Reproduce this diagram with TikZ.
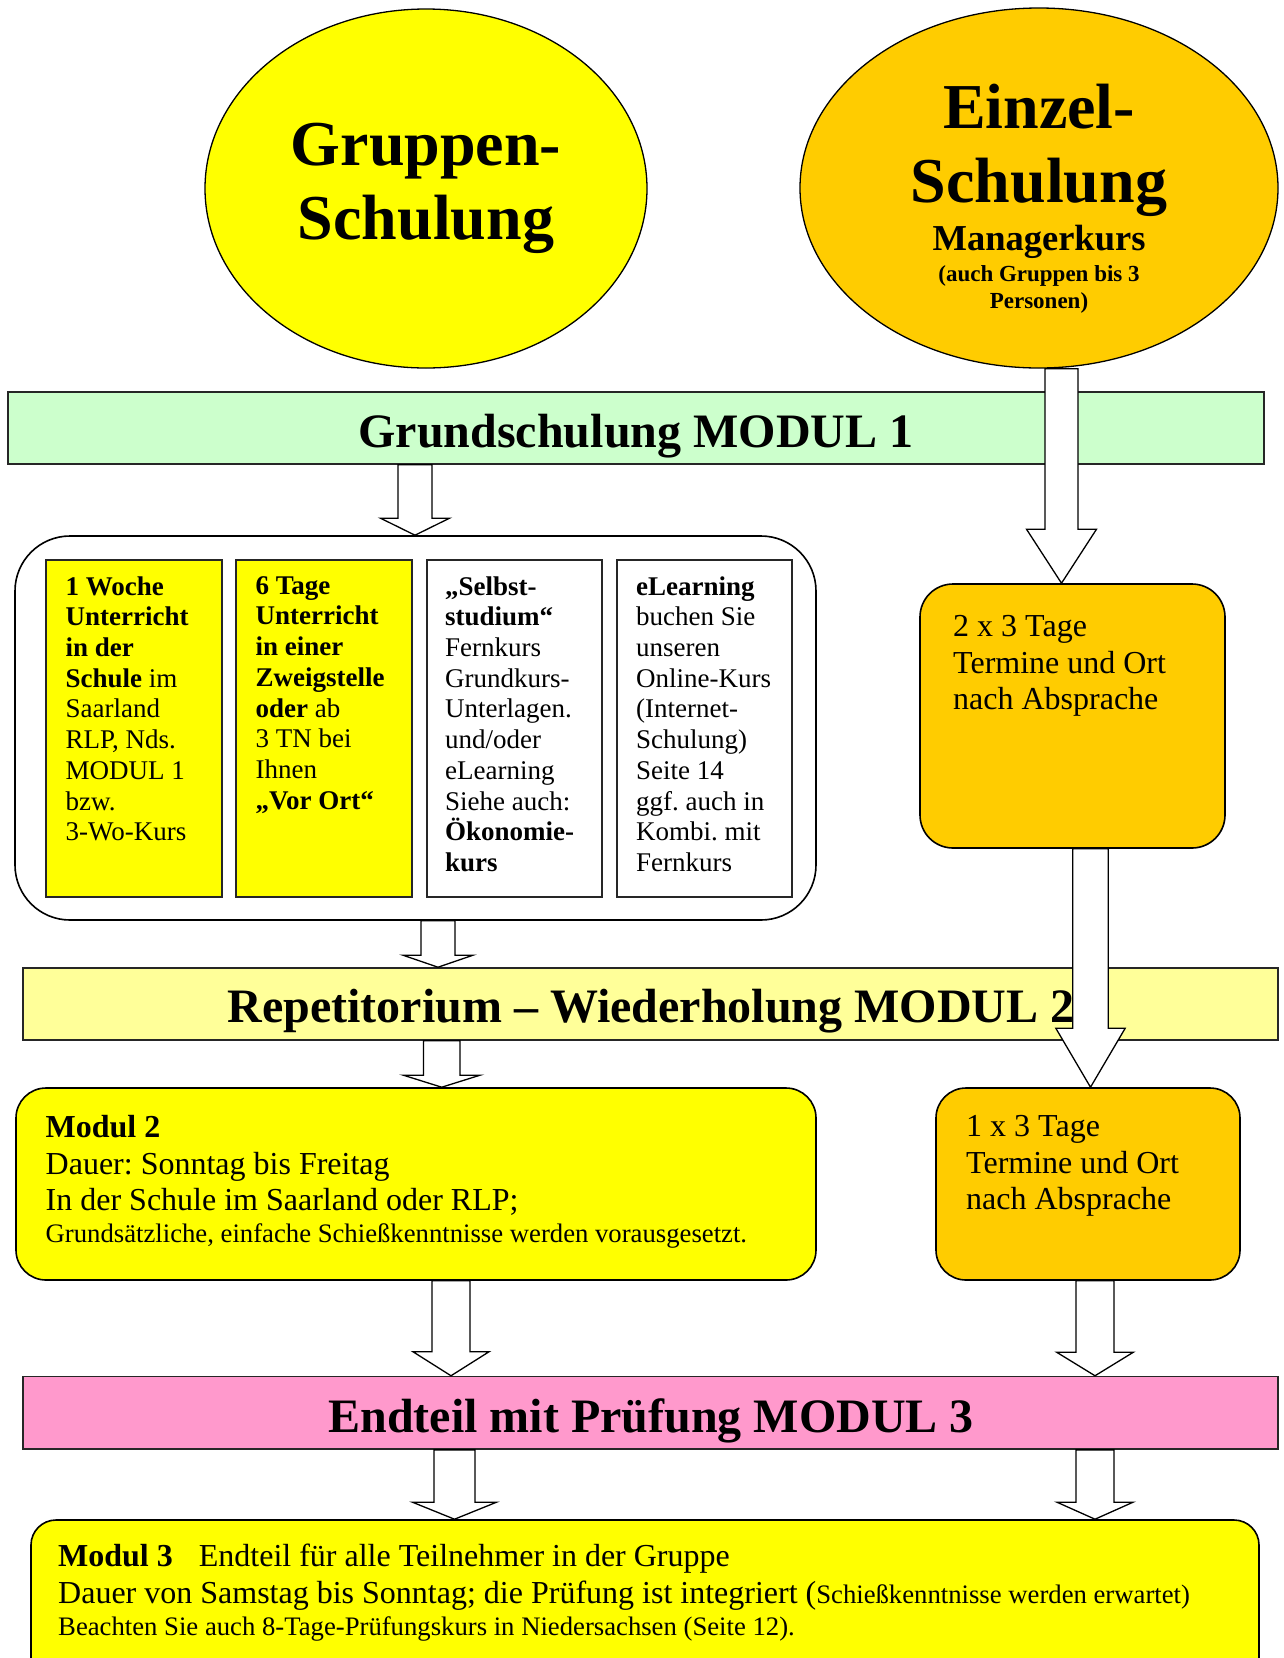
\documentclass[tikz,border=0pt]{standalone}
\usepackage{fontspec}
\setmainfont{Liberation Serif}
\usepackage{xcolor}
\usepackage{tikz}
\usetikzlibrary{positioning,shapes.geometric}
\frenchspacing

\definecolor{gelb}{HTML}{FFFF00}
\definecolor{dunkelgelb}{HTML}{FFCC00}
\definecolor{hellgruen}{HTML}{CCFFCC}
\definecolor{hellgelb}{HTML}{FFFF99}
\definecolor{rosa}{HTML}{FF99CC}

\tikzset{
  balken/.style={draw=black!85, line width=1.6pt, minimum height=72pt, inner sep=0pt},
  kasten/.style={draw=black, line width=1.6pt, rounded corners=30pt, inner sep=0pt},
  spalte/.style={draw=black!85, line width=1.6pt, minimum width=175.5pt, minimum height=337pt, inner sep=0pt},
  pfeil/.style={draw=black, fill=white, line width=1.3pt, line join=miter},
  grosstext/.style={anchor=base, inner sep=0pt, font=\fontsize{48}{55}\selectfont\bfseries},
  spaltentext/.style={anchor=north west, align=left, inner sep=0pt, font=\fontsize{27}{30.7}\selectfont},
  kastentext/.style={anchor=north west, align=left, inner sep=0pt, font=\fontsize{32}{36.6}\selectfont},
  kleintext/.style={anchor=base west, inner sep=0pt, font=\fontsize{26.7}{30.7}\selectfont}
}

\newcommand{\blockpfeil}[6]{%
  \path (#1 -| #3) coordinate (pa) (#2 -| #3) coordinate (pe);
  \draw[pfeil] ([xshift=-#4pt]pa) -- ([xshift=-#4pt,yshift=#6pt]pe) -- ([xshift=-#5pt,yshift=#6pt]pe)
    -- (pe) -- ([xshift=#5pt,yshift=#6pt]pe) -- ([xshift=#4pt,yshift=#6pt]pe) -- ([xshift=#4pt]pa) -- cycle;
}

\begin{document}
\begin{tikzpicture}[x=1pt,y=-1pt]
\useasboundingbox (0,0) rectangle (1284,1658);
\clip (0,0) rectangle (1284,1658);

\node[ellipse, draw, line width=1.3pt, fill=gelb, minimum width=442pt, minimum height=359pt, inner sep=0pt,
  align=center, font=\fontsize{64}{73.4}\selectfont\bfseries] (gruppe) at (426,188.5) {Gruppen-\\Schulung};
\node[ellipse, draw, line width=1.3pt, fill=dunkelgelb, minimum width=478pt, minimum height=360pt, inner sep=0pt] (einzel) at (1039,188) {};
\node[anchor=north, align=center, inner sep=0pt, font=\fontsize{64}{73.4}\selectfont\bfseries] (einzeltitel) at (1039,84.3) {Einzel-\\Schulung};
\node[anchor=north, inner sep=0pt, font=\fontsize{36.5}{42}\selectfont\bfseries] (einzelkurs) at (1039,225.3) {Managerkurs};
\node[anchor=north, align=center, inner sep=0pt, font=\fontsize{23}{27}\selectfont\bfseries] (einzelhinweis) at (1039,265) {(auch Gruppen bis 3\\Personen)};

\node[balken, fill=hellgruen, minimum width=1256pt] (grund) at (636,428) {};
\node[grosstext] (grundtext) at (636,447) {Grundschulung MODUL 1};

\node[kasten, rounded corners=55pt, fill=white, minimum width=801pt, minimum height=384pt] (wahl) at (415.5,728) {};
\node[spalte, fill=gelb] (woche) at (134,728.5) {};
\node[spalte, fill=gelb] (tage) at (324,728.5) {};
\node[spalte, fill=white] (selbst) at (514.5,728.5) {};
\node[spalte, fill=white] (elearn) at (704.5,728.5) {};
\node[spaltentext] (wochetext) at ([xshift=20pt,yshift=-17pt]woche.north west)
  {\textbf{1 Woche}\\\textbf{Unterricht}\\\textbf{in der}\\\textbf{Schule} im\\Saarland\\RLP, Nds.\\MODUL 1\\bzw.\\3-Wo-Kurs};
\node[spaltentext] (tagetext) at ([xshift=20pt,yshift=-17pt]tage.north west)
  {\textbf{6 Tage}\\\textbf{Unterricht}\\\textbf{in einer}\\\textbf{Zweigstelle}\\\textbf{oder} ab\\3 TN bei\\Ihnen\\\textbf{„Vor Ort“}};
\node[spaltentext] (selbsttext) at ([xshift=19pt,yshift=-17pt]selbst.north west)
  {\textbf{„Selbst-}\\\textbf{studium“}\\Fernkurs\\Grundkurs-\\Unterlagen.\\und/oder\\eLearning\\Siehe auch:\\\textbf{Ökonomie-}\\\textbf{kurs}};
\node[spaltentext] (elearntext) at ([xshift=20pt,yshift=-17pt]elearn.north west)
  {\textbf{eLearning}\\buchen Sie\\unseren\\Online-Kurs\\(Internet-\\Schulung)\\Seite 14\\ggf. auch in\\Kombi. mit\\Fernkurs};

\node[kasten, rounded corners=33pt, fill=dunkelgelb, minimum width=305pt, minimum height=264pt] (zweimal) at (1072.5,716) {};
\node[kastentext] (zweimaltext) at (953,615.4) {2 x 3 Tage\\Termine und Ort\\nach Absprache};

\node[balken, fill=hellgelb, minimum width=1255pt] (repet) at (650.5,1004) {};
\node[grosstext] (repettext) at (651,1022) {Repetitorium – Wiederholung MODUL 2};

\node[kasten, fill=gelb, minimum width=800pt, minimum height=192pt] (modzwei) at (416,1184) {};
\node[kastentext] (modzweitext) at (45.5,1115) {\textbf{Modul 2}\\Dauer: Sonntag bis Freitag\\In der Schule im Saarland oder RLP;};
\node[kleintext] (modzweiklein) at (45.5,1242) {Grundsätzliche, einfache Schießkenntnisse werden vorausgesetzt.};

\node[kasten, fill=dunkelgelb, minimum width=304pt, minimum height=192pt] (einmal) at (1088,1184) {};
\node[kastentext] (einmaltext) at (966,1115) {1 x 3 Tage\\Termine und Ort\\nach Absprache};

\node[balken, fill=rosa, minimum width=1255pt, minimum height=72.5pt] (pruef) at (650.5,1412.8) {};
\node[grosstext] (prueftext) at (651,1432) {Endteil mit Prüfung MODUL 3};

\node[kasten, rounded corners=25pt, fill=gelb, minimum width=1228pt, minimum height=200pt] (moddrei) at (645,1620) {};
\node[anchor=base west, inner sep=0pt, font=\fontsize{32}{36.6}\selectfont] (moddreitext) at (58,1566)
  {\textbf{Modul 3}\hspace{26pt}Endteil für alle Teilnehmer in der Gruppe};
\node[anchor=base west, inner sep=0pt, font=\fontsize{32}{36.6}\selectfont] (moddreidauer) at (58,1603)
  {Dauer von Samstag bis Sonntag; die Prüfung ist integriert ({\fontsize{26.7}{30.7}\selectfont Schießkenntnisse werden erwartet)}};
\node[kleintext] (moddreihinweis) at (58,1635) {Beachten Sie auch 8-Tage-Prüfungskurs in Niedersachsen (Seite 12).};

\coordinate (spura) at (415,0);
\coordinate (spurb) at (1061.5,0);
\coordinate (spurc) at (438,0);
\coordinate (spurd) at (441.7,0);
\coordinate (spure) at (1090.5,0);
\coordinate (spurf) at (451,0);
\coordinate (spurg) at (1095,0);
\coordinate (spurh) at (454.5,0);

\blockpfeil{grund.south}{wahl.north}{spura}{17}{34.5}{17}
\blockpfeil{einzel.south}{zweimal.north}{spurb}{16.5}{35}{54}
\blockpfeil{wahl.south}{repet.north}{spurc}{17}{35}{12}
\blockpfeil{repet.south}{modzwei.north}{spurd}{18.3}{38.3}{12}
\blockpfeil{zweimal.south}{einmal.north}{spure}{17.8}{34.7}{59}
\blockpfeil{modzwei.south}{pruef.north}{spurf}{19}{38}{24}
\blockpfeil{einmal.south}{pruef.north}{spurg}{19}{38.3}{23.5}
\blockpfeil{pruef.south}{moddrei.north}{spurh}{20.5}{42}{17}
\blockpfeil{pruef.south}{moddrei.north}{spurg}{19}{38}{17}
\end{tikzpicture}
\end{document}
